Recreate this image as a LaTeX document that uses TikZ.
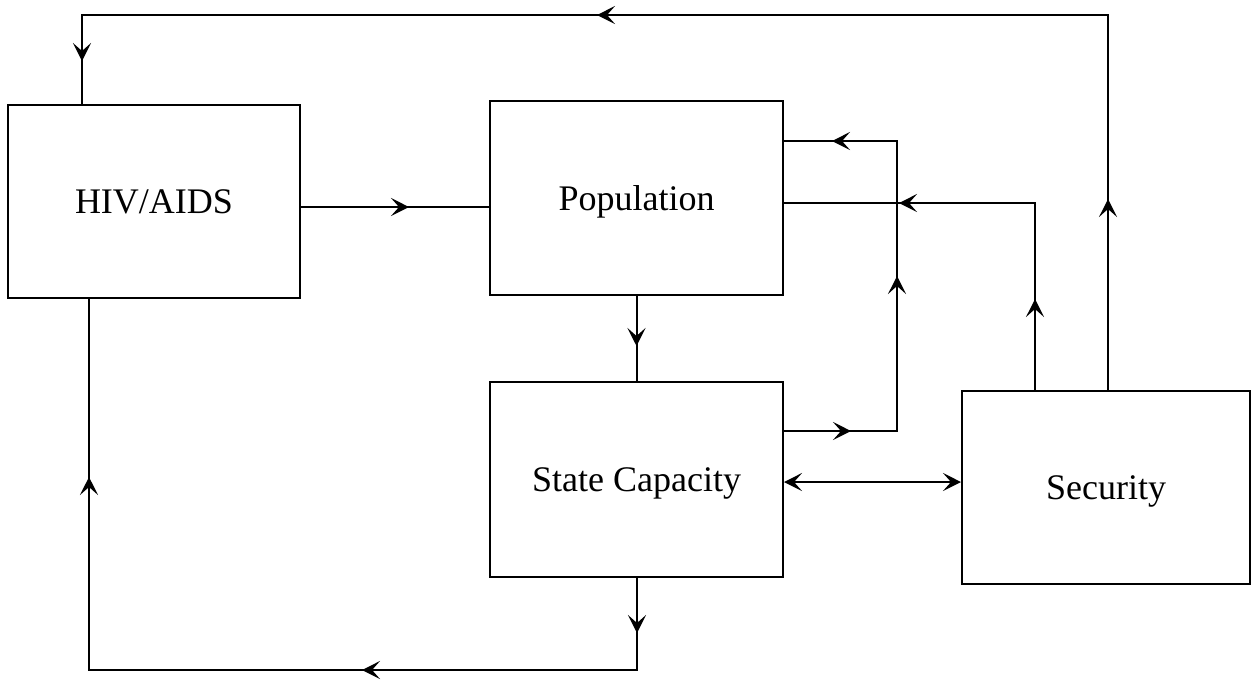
\documentclass[tikz,border=0pt]{standalone}
\usepackage{fontspec}
\setmainfont{Liberation Serif}
\usetikzlibrary{arrows.meta,decorations.markings}
\tikzset{
  box/.style={draw,line width=1pt,inner sep=0pt,text height=12pt,text depth=0pt,font=\fontsize{18}{20}\selectfont},
  conn/.style={line width=1pt},
  >={Stealth[length=9pt,width=9pt,inset=4pt]},
}
\begin{document}
\begin{tikzpicture}[x=0.5pt,y=-0.5pt]
\useasboundingbox (0,0) rectangle (1252,682);
\node[box,minimum width=146pt,minimum height=96.5pt] (hiv) at (154,201.5) {HIV/AIDS};
\node[box,minimum width=146.5pt,minimum height=97pt] (pop) at (636.5,198) {Population};
\node[box,minimum width=146.5pt,minimum height=97.5pt] (st) at (636.5,479.5) {State Capacity};
\node[box,minimum width=144pt,minimum height=96.5pt] (sec) at (1106,487.5) {Security};
\coordinate (c1) at (1108,15);
\coordinate (c2) at (82,15);
\coordinate (h1) at (0,207);
\coordinate (a1) at (897,431);
\coordinate (a2) at (897,141);
\coordinate (b1) at (1035,203);
\coordinate (d1) at (0,482);
\coordinate (e1) at (637,670);
\coordinate (e2) at (89,670);
% top loop: Security -> HIV/AIDS
\draw[conn,postaction=decorate,decoration={markings,
  mark=at position 95.5pt with {\arrow{>}},
  mark=at position 443pt with {\arrow{>}},
  mark=at position 723.5pt with {\arrow{>}}}]
  (sec.north -| c1) -- (c1) -- (c2) -- (hiv.north -| c2);
% HIV/AIDS -> Population
\draw[conn,postaction=decorate,decoration={markings,
  mark=at position 54pt with {\arrow{>}}}]
  (hiv.east |- h1) -- (pop.west |- h1);
% Population -> State Capacity
\draw[conn,postaction=decorate,decoration={markings,
  mark=at position 25pt with {\arrow{>}}}]
  (pop.south) -- (st.north);
% State Capacity -> Population
\draw[conn,postaction=decorate,decoration={markings,
  mark=at position 33.5pt with {\arrow{>}},
  mark=at position 134pt with {\arrow{>}},
  mark=at position 234pt with {\arrow{>}}}]
  (st.east |- a1) -- (a1) -- (a2) -- (pop.east |- a2);
% Security -> Population
\draw[conn,postaction=decorate,decoration={markings,
  mark=at position 45.5pt with {\arrow{>}},
  mark=at position 161.5pt with {\arrow{>}}}]
  (sec.north -| b1) -- (b1) -- (pop.east |- b1);
% State Capacity <-> Security
\draw[conn,<->] (st.east |- d1) -- (sec.west |- d1);
% State Capacity -> HIV/AIDS
\draw[conn,postaction=decorate,decoration={markings,
  mark=at position 27.5pt with {\arrow{>}},
  mark=at position 183.5pt with {\arrow{>}},
  mark=at position 416.5pt with {\arrow{>}}}]
  (st.south -| e1) -- (e1) -- (e2) -- (hiv.south -| e2);
\end{tikzpicture}
\end{document}
